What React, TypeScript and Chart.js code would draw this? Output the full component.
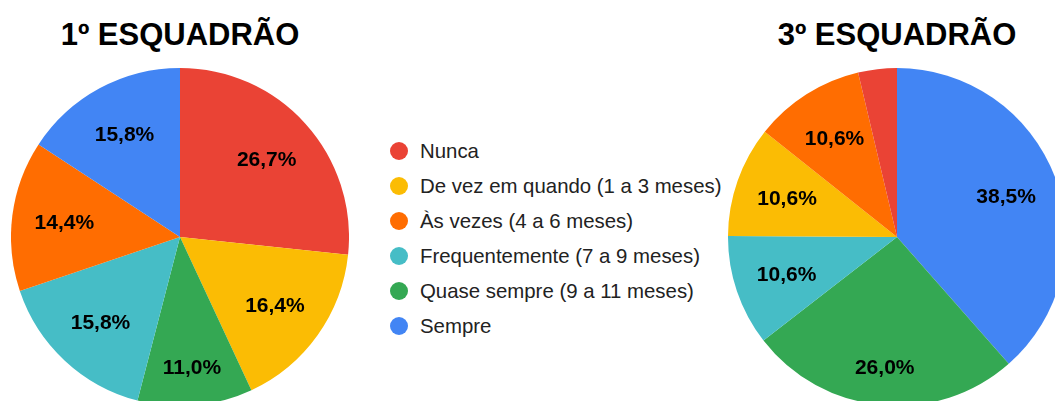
import React, { useEffect, useRef } from "react";
import { Chart, registerables } from "chart.js";

Chart.register(...registerables);

// Categories in legend order
const categories = [
  "Nunca",
  "De vez em quando (1 a 3 meses)",
  "Às vezes (4 a 6 meses)",
  "Frequentemente (7 a 9 meses)",
  "Quase sempre (9 a 11 meses)",
  "Sempre",
];
const categoryColors = ["#EA4335", "#FBBC04", "#FF6D01", "#46BDC6", "#34A853", "#4285F4"];

// Percent values per category (legend order)
const esq1Values = [26.7, 16.4, 14.4, 15.8, 11.0, 15.8];
const esq3Values = [3.7, 10.6, 10.6, 10.6, 26.0, 38.5];

// Slice order (clockwise from top) as category indices
const esq1Order = [0, 1, 4, 3, 2, 5];
const esq3Order = [5, 4, 3, 1, 2, 0];

const titles = ["1º ESQUADRÃO", "3º ESQUADRÃO"];

const FONT = "'Liberation Sans', Arial, Helvetica, sans-serif";

const fmt = (v: number) => v.toFixed(1).replace(".", ",") + "%";

const labelPlugin = {
  id: "sliceLabels",
  afterDatasetsDraw(chart: any) {
    const ctx = chart.ctx;
    const meta = chart.getDatasetMeta(0);
    const data = chart.data.datasets[0].data as number[];
    const total = data.reduce((a: number, b: number) => a + b, 0);
    ctx.save();
    ctx.font = `bold 21px ${FONT}`;
    ctx.fillStyle = "#000000";
    ctx.textAlign = "center";
    ctx.textBaseline = "middle";
    meta.data.forEach((arc: any, i: number) => {
      const pct = (data[i] / total) * 100;
      if (pct < 5) return;
      const p = arc.getProps(["x", "y", "startAngle", "endAngle", "outerRadius"], true);
      const mid = (p.startAngle + p.endAngle) / 2;
      const down = Math.max(0, Math.sin(mid));
      const r = p.outerRadius * (0.69 + 0.09 * Math.pow(down, 20));
      ctx.fillText(fmt(data[i]), p.x + Math.cos(mid) * r, p.y + Math.sin(mid) * r + 1);
    });
    ctx.restore();
  },
};

function PieChart({ values, order }: { values: number[]; order: number[] }) {
  const ref = useRef<HTMLCanvasElement>(null);
  useEffect(() => {
    if (!ref.current) return;
    const chart = new Chart(ref.current, {
      type: "pie",
      data: {
        labels: order.map((i) => categories[i]),
        datasets: [
          {
            data: order.map((i) => values[i]),
            backgroundColor: order.map((i) => categoryColors[i]),
            borderWidth: 0,
          },
        ],
      },
      options: {
        animation: false,
        responsive: false,
        maintainAspectRatio: false,
        layout: { padding: 0 },
        plugins: { legend: { display: false }, tooltip: { enabled: false }, title: { display: false } },
      },
      plugins: [labelPlugin],
    });
    return () => chart.destroy();
  }, [values, order]);
  return <canvas ref={ref} width={338} height={338} style={{ width: 338, height: 338, display: "block" }} />;
}

export default function App() {
  useEffect(() => {
    document.body.style.margin = "0";
  }, []);
  const pieSize = 338;
  const centers = [180, 897];
  const cy = 237;
  return (
    <div style={{ position: "relative", width: 1055, height: 401, overflow: "hidden", background: "#ffffff", fontFamily: FONT }}>
      {titles.map((t, k) => (
        <div
          key={t}
          style={{
            position: "absolute",
            left: centers[k] - 200,
            width: 400,
            top: 19,
            textAlign: "center",
            fontSize: 31,
            lineHeight: "31px",
            fontWeight: "bold",
            color: "#000000",
            whiteSpace: "nowrap",
          }}
        >
          {t}
        </div>
      ))}
      <div style={{ position: "absolute", left: centers[0] - pieSize / 2, top: cy - pieSize / 2 }}>
        <PieChart values={esq1Values} order={esq1Order} />
      </div>
      <div style={{ position: "absolute", left: centers[1] - pieSize / 2, top: cy - pieSize / 2 }}>
        <PieChart values={esq3Values} order={esq3Order} />
      </div>
      <div style={{ position: "absolute", left: 390, top: 133 }}>
        {categories.map((c, i) => (
          <div key={c} style={{ display: "flex", alignItems: "center", height: 35 }}>
            <span
              style={{
                display: "inline-block",
                width: 18,
                height: 18,
                borderRadius: "50%",
                background: categoryColors[i],
                marginRight: 12,
              }}
            />
            <span style={{ fontSize: 20.4, lineHeight: "20px", color: "#222222", whiteSpace: "nowrap" }}>{c}</span>
          </div>
        ))}
      </div>
    </div>
  );
}
